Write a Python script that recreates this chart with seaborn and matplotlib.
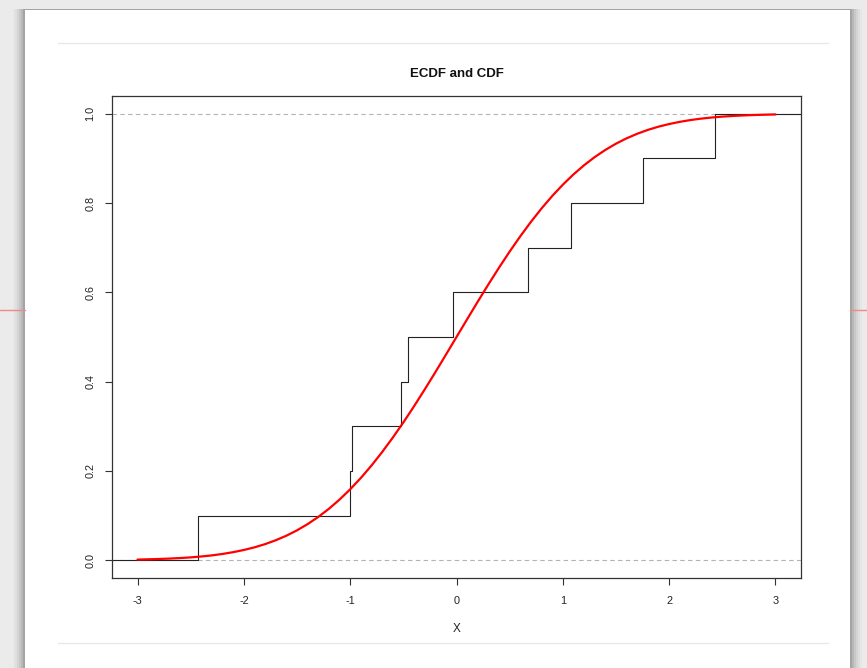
import numpy as np
import pandas as pd
import matplotlib
matplotlib.use("Agg")
import matplotlib.pyplot as plt
import seaborn as sns
from matplotlib.patches import Rectangle
from matplotlib.lines import Line2D

# ---- data ----
jump_x = [-2.43, -1.00, -0.98, -0.52, -0.46, -0.03, 0.67, 1.08, 1.75, 2.43]
ecdf_y = [0.1, 0.2, 0.3, 0.4, 0.5, 0.6, 0.7, 0.8, 0.9, 1.0]
cdf_x = [-3.0, -2.9, -2.8, -2.7, -2.6, -2.5, -2.4, -2.3, -2.2, -2.1,
         -2.0, -1.9, -1.8, -1.7, -1.6, -1.5, -1.4, -1.3, -1.2, -1.1,
         -1.0, -0.9, -0.8, -0.7, -0.6, -0.5, -0.4, -0.3, -0.2, -0.1,
         0.0, 0.1, 0.2, 0.3, 0.4, 0.5, 0.6, 0.7, 0.8, 0.9,
         1.0, 1.1, 1.2, 1.3, 1.4, 1.5, 1.6, 1.7, 1.8, 1.9,
         2.0, 2.1, 2.2, 2.3, 2.4, 2.5, 2.6, 2.7, 2.8, 2.9, 3.0]
cdf_y = [0.0013, 0.0019, 0.0026, 0.0035, 0.0047, 0.0062, 0.0082, 0.0107, 0.0139, 0.0179,
         0.0228, 0.0287, 0.0359, 0.0446, 0.0548, 0.0668, 0.0808, 0.0968, 0.1151, 0.1357,
         0.1587, 0.1841, 0.2119, 0.2420, 0.2743, 0.3085, 0.3446, 0.3821, 0.4207, 0.4602,
         0.5000, 0.5398, 0.5793, 0.6179, 0.6554, 0.6915, 0.7257, 0.7580, 0.7881, 0.8159,
         0.8413, 0.8643, 0.8849, 0.9032, 0.9192, 0.9332, 0.9452, 0.9554, 0.9641, 0.9713,
         0.9772, 0.9821, 0.9861, 0.9893, 0.9918, 0.9938, 0.9953, 0.9965, 0.9974, 0.9981, 0.9987]
x_ticks = [-3, -2, -1, 0, 1, 2, 3]
y_ticks = [0.0, 0.2, 0.4, 0.6, 0.8, 1.0]
title = "ECDF and CDF"
xlabel = "X"

sns.set_theme(style="white")
plt.rcParams['font.family'] = ['Liberation Sans', 'DejaVu Sans']

fig = plt.figure(figsize=(8.67, 6.68), dpi=100)
fig.patch.set_facecolor("#ebebeb")

W, H = 867, 668
def fx(px): return px / W
def fy(py): return 1 - py / H

# page decorations (screenshot background)
for i, a in enumerate([0.10, 0.08, 0.06, 0.04, 0.03, 0.02]):
    fig.add_artist(Rectangle((fx(25 - 2 * (i + 1)), 0), fx(825 + 4 * (i + 1)), fy(10 - 1),
                             transform=fig.transFigure, facecolor="black", alpha=a,
                             edgecolor="none", zorder=0))
fig.add_artist(Rectangle((fx(25), 0), fx(825), fy(10), transform=fig.transFigure,
                         facecolor="white", edgecolor="none", zorder=0.5))
fig.add_artist(Line2D([fx(0), fx(25)], [fy(310), fy(310)], transform=fig.transFigure,
                      color="#ee8a8a", lw=1.0, zorder=1))
fig.add_artist(Line2D([fx(850), fx(867)], [fy(310), fy(310)], transform=fig.transFigure,
                      color="#ee8a8a", lw=1.0, zorder=1))
for py in (43, 643):
    fig.add_artist(Line2D([fx(58), fx(828)], [fy(py), fy(py)], transform=fig.transFigure,
                          color="#e8e8e8", lw=1.0, zorder=1))

ax = fig.add_axes([fx(112), fy(578), fx(801) - fx(112), fy(96) - fy(578)])
ax.set_facecolor("white")
ax.set_zorder(2)

xmin, xmax = -3.24, 3.24
ax.set_xlim(xmin, xmax)
ax.set_ylim(-0.04, 1.04)

# dashed reference lines at 0 and 1
for h in (0.0, 1.0):
    ax.axhline(h, color="#b3b3b3", lw=0.8, ls=(0, (4, 3)), zorder=1)

# ECDF steps
step_df = pd.DataFrame({
    "x": [xmin] + jump_x + [xmax],
    "y": [0.0] + ecdf_y + [ecdf_y[-1]],
})
sns.lineplot(data=step_df, x="x", y="y", drawstyle="steps-post", estimator=None,
             color="#222222", lw=0.8, ax=ax, zorder=2)

# theoretical CDF
cdf_df = pd.DataFrame({"x": cdf_x, "y": cdf_y})
sns.lineplot(data=cdf_df, x="x", y="y", estimator=None, color="#ff0000", lw=1.6,
             ax=ax, zorder=3)

ax.set_xticks(x_ticks)
ax.set_xticklabels([str(v) for v in x_ticks])
ax.set_yticks(y_ticks)
ax.set_yticklabels([f"{v:.1f}" for v in y_ticks], rotation=90, va="center")
ax.tick_params(axis="both", direction="out", length=5, width=0.8, color="#333333",
               labelsize=7.8, labelcolor="#222222", bottom=True, left=True)
ax.tick_params(axis="x", pad=8)
ax.tick_params(axis="y", pad=7)
for s in ax.spines.values():
    s.set_color("#333333")
    s.set_linewidth(0.9)

ax.set_title(title, fontsize=9.5, fontweight="bold", pad=14, color="#111111")
ax.set_xlabel(xlabel, fontsize=8.5, labelpad=12, color="#222222")
ax.set_ylabel("")

fig.savefig("out.png", dpi=100, facecolor=fig.get_facecolor())
